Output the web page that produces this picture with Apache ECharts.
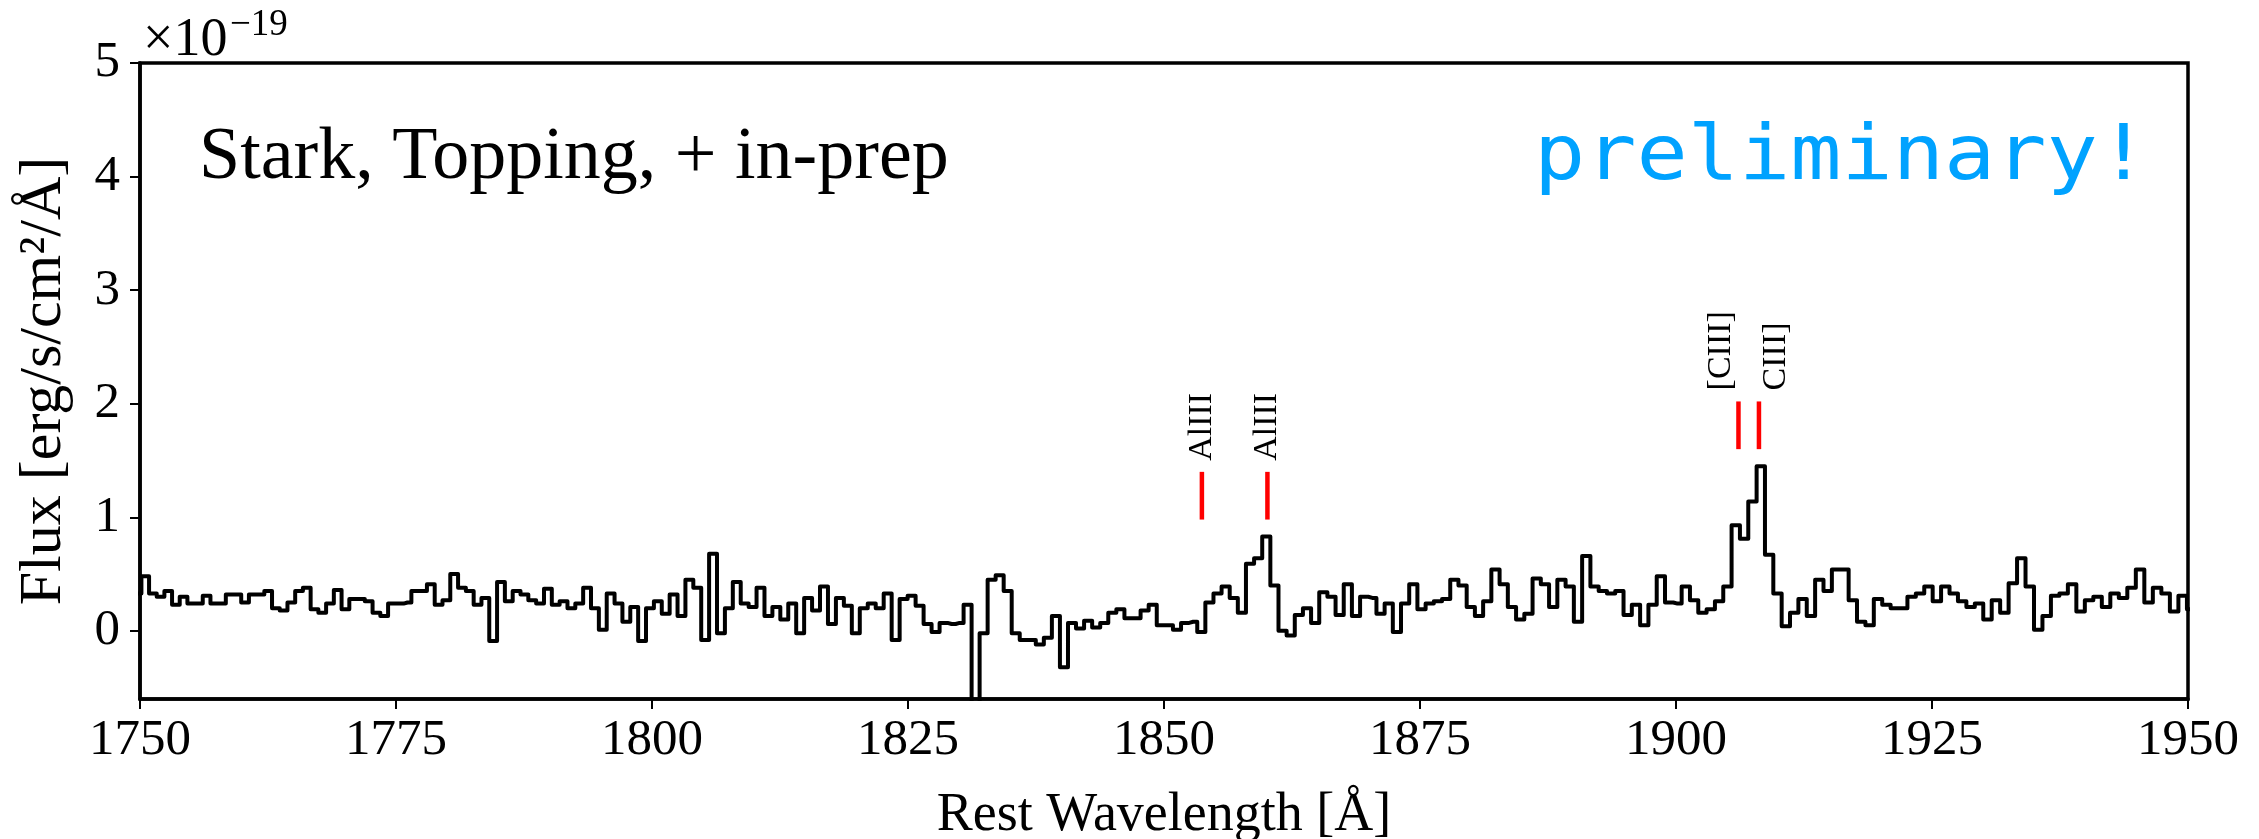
<!DOCTYPE html>
<html>
<head>
<meta charset="utf-8">
<script src="https://cdn.jsdelivr.net/npm/echarts@6/dist/echarts.min.js"></script>
<style>
  html, body { margin: 0; padding: 0; background: #fff; }
  #chart { width: 2259px; height: 839px; }
</style>
</head>
<body>
<div id="chart"></div>
<script>
// ---- data ----
// Spectrum: constant-resolution binning (log-uniform wavelength grid)
const binStart = 1749.39;      // Å, lower edge of first bin
const binLogStep = 4.272e-4;   // bin width in ln(wavelength)
// flux per bin, units of 1e-19 erg/s/cm2/Å
const fluxValues = [
  0.33, 0.48, 0.33, 0.30, 0.35, 0.23, 0.30, 0.24, 0.24, 0.31,
  0.24, 0.24, 0.32, 0.32, 0.25, 0.32, 0.32, 0.35, 0.20, 0.18,
  0.25, 0.35, 0.38, 0.19, 0.16, 0.24, 0.36, 0.19, 0.28, 0.28,
  0.26, 0.16, 0.13, 0.24, 0.24, 0.25, 0.35, 0.35, 0.41, 0.23,
  0.27, 0.50, 0.38, 0.35, 0.23, 0.29, -0.09, 0.43, 0.26, 0.35,
  0.32, 0.27, 0.24, 0.37, 0.23, 0.26, 0.20, 0.24, 0.38, 0.20,
  0.01, 0.33, 0.24, 0.08, 0.21, -0.09, 0.20, 0.26, 0.15, 0.32,
  0.13, 0.45, 0.38, -0.08, 0.68, -0.02, 0.20, 0.43, 0.24, 0.21,
  0.38, 0.13, 0.21, 0.10, 0.24, -0.02, 0.29, 0.18, 0.39, 0.06,
  0.29, 0.22, -0.02, 0.20, 0.24, 0.20, 0.33, -0.08, 0.28, 0.31,
  0.22, 0.06, -0.01, 0.07, 0.06, 0.07, 0.23, -1.20, -0.02, 0.45,
  0.49, 0.35, -0.02, -0.08, -0.08, -0.12, -0.06, 0.13, -0.32, 0.07,
  0.02, 0.09, 0.03, 0.07, 0.16, 0.19, 0.11, 0.11, 0.18, 0.23,
  0.05, 0.05, 0.01, 0.07, 0.08, -0.01, 0.25, 0.33, 0.39, 0.29,
  0.16, 0.59, 0.64, 0.83, 0.40, 0.00, -0.04, 0.14, 0.20, 0.07,
  0.34, 0.30, 0.14, 0.41, 0.13, 0.30, 0.29, 0.15, 0.24, -0.01,
  0.24, 0.41, 0.19, 0.24, 0.26, 0.28, 0.45, 0.40, 0.21, 0.13,
  0.26, 0.54, 0.41, 0.21, 0.10, 0.15, 0.46, 0.41, 0.21, 0.45,
  0.39, 0.08, 0.66, 0.39, 0.35, 0.33, 0.35, 0.14, 0.23, 0.05,
  0.23, 0.48, 0.25, 0.24, 0.39, 0.27, 0.16, 0.19, 0.26, 0.39,
  0.93, 0.81, 1.14, 1.45, 0.67, 0.33, 0.04, 0.16, 0.28, 0.13,
  0.45, 0.35, 0.54, 0.54, 0.27, 0.08, 0.05, 0.28, 0.23, 0.20,
  0.20, 0.30, 0.33, 0.39, 0.26, 0.39, 0.33, 0.26, 0.21, 0.24,
  0.10, 0.27, 0.16, 0.42, 0.64, 0.39, 0.01, 0.13, 0.31, 0.33,
  0.41, 0.17, 0.27, 0.30, 0.21, 0.33, 0.29, 0.38, 0.54, 0.25,
  0.38, 0.33, 0.17, 0.31, 0.19
];
// emission-line markers
const lineNames = ['AlIII', 'AlIII', '[CIII]', 'CIII]'];
const lineWaves = [1853.7, 1860.1, 1906.1, 1908.1];
const lineLow   = [0.98, 0.98, 1.60, 1.60];
const lineHigh  = [1.40, 1.40, 2.02, 2.02];
// axes
const xTicks = [1750, 1775, 1800, 1825, 1850, 1875, 1900, 1925, 1950];
const yTicks = [0, 1, 2, 3, 4, 5];
const xRange = [1750, 1950];
const yRange = [-0.6, 5];

// ---- build series data ----
const spectrum = fluxValues.map((v, i) => [binStart * Math.exp((i + 0.5) * binLogStep), v]);
const markers = lineWaves.map((w, i) => [w, lineLow[i], lineHigh[i], i]);
const labelSide = ['middle', 'middle', 'bottom', 'top'];

const SERIF = '"Liberation Serif", "DejaVu Serif", serif';
const chart = echarts.init(document.getElementById('chart'), null, { renderer: 'canvas' });

chart.setOption({
  animation: false,
  backgroundColor: '#ffffff',
  grid: { left: 140, right: 71, top: 63, bottom: 140, containLabel: false, outerBoundsMode: 'none',
          show: true, borderColor: '#000', borderWidth: 3.5, backgroundColor: 'transparent' },
  xAxis: {
    type: 'value', min: xRange[0], max: xRange[1], interval: 25,
    name: 'Rest Wavelength [Å]', nameLocation: 'middle', nameGap: 90,
    nameTextStyle: { fontFamily: SERIF, fontSize: 54, color: '#000' },
    axisLine: { onZero: false, lineStyle: { color: '#000', width: 3.5 } },
    axisTick: { length: 10, lineStyle: { color: '#000', width: 2 }, customValues: xTicks },
    axisLabel: { fontFamily: SERIF, fontSize: 51, color: '#000', margin: 16, customValues: xTicks,
                 formatter: function (v) { return String(v); } },
    splitLine: { show: false }
  },
  yAxis: {
    type: 'value', min: yRange[0], max: yRange[1],
    name: 'Flux [erg/s/cm²/Å]', nameLocation: 'middle', nameGap: 66, nameRotate: 90,
    nameTextStyle: { fontFamily: SERIF, fontSize: 60, color: '#000' },
    axisLine: { onZero: false, lineStyle: { color: '#000', width: 3.5 } },
    axisTick: { length: 10, lineStyle: { color: '#000', width: 2 }, customValues: yTicks },
    axisLabel: { fontFamily: SERIF, fontSize: 51, color: '#000', margin: 20, customValues: yTicks,
                 formatter: function (v) { return String(v); } },
    splitLine: { show: false }
  },
  series: [
    {
      type: 'line', step: 'middle', data: spectrum, showSymbol: false, symbol: 'none',
      clip: true, z: 3,
      lineStyle: { color: '#000', width: 4, join: 'round' }
    },
    {
      type: 'custom', data: markers, z: 4,
      renderItem: function (params, api) {
        const lo = api.coord([api.value(0), api.value(1)]);
        const hi = api.coord([api.value(0), api.value(2)]);
        const idx = api.value(3);
        return {
          type: 'group',
          children: [
            { type: 'line', shape: { x1: lo[0], y1: lo[1], x2: hi[0], y2: hi[1] },
              style: { stroke: '#ff0000', lineWidth: 4.5 } },
            { type: 'text', x: hi[0], y: hi[1] - 11, rotation: Math.PI / 2,
              style: { text: lineNames[idx], font: '34px ' + SERIF, fill: '#000',
                       align: 'left', verticalAlign: labelSide[idx] } }
          ]
        };
      }
    }
  ],
  graphic: [
    { type: 'text', x: 143, y: 41, style: { text: '×10', font: '54px ' + SERIF, fill: '#000', align: 'left', verticalAlign: 'middle' } },
    { type: 'text', x: 230, y: 25, style: { text: '−19', font: '37px ' + SERIF, fill: '#000', align: 'left', verticalAlign: 'middle' } },
    { type: 'text', x: 199, y: 159, style: { text: 'Stark, Topping, + in-prep', font: '74px ' + SERIF, fill: '#000', align: 'left', verticalAlign: 'middle' } },
    { type: 'text', x: 1534, y: 159, scaleX: 1.12, style: { text: 'preliminary!', font: '76px "DejaVu Sans Mono", monospace', fill: '#00a2ff', align: 'left', verticalAlign: 'middle' } }
  ]
});
</script>
</body>
</html>
